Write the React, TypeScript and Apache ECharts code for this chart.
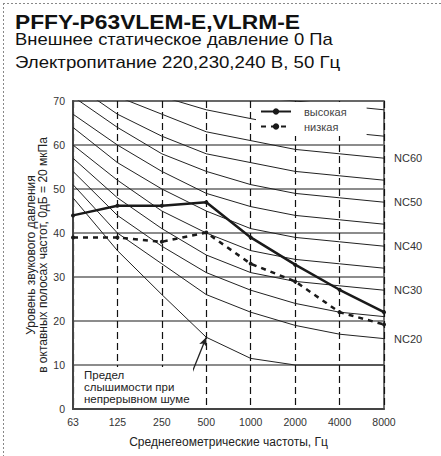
import React, { useEffect, useRef } from "react";
import * as echarts from "echarts";

const freqs = ["63", "125", "250", "500", "1000", "2000", "4000", "8000"];
const yTicks = [0, 10, 20, 30, 40, 50, 60, 70];

const nc20 = [51, 40, 33, 26, 22, 19, 17, 16];
const nc25 = [54, 44, 37, 31, 27, 24, 22, 21];
const nc30 = [57, 48, 41, 35, 31, 29, 28, 27];
const nc35 = [60, 52, 45, 40, 36, 34, 33, 32];
const nc40 = [64, 56, 50, 45, 41, 39, 38, 37];
const nc45 = [67, 60, 54, 49, 46, 44, 43, 42];
const nc50 = [71, 64, 58, 54, 51, 49, 48, 47];
const nc55 = [74, 67, 62, 58, 56, 54, 53, 52];
const nc60 = [77, 71, 67, 63, 61, 59, 58, 57];
const nc65 = [80, 75, 71, 68, 66, 64, 63, 62];
const nc70 = [83, 79, 75, 72, 71, 70, 69, 68];
const threshold = [48, 36, 26, 16.3, 11.5, 10, 10, 10];

const highValues = [44, 46.2, 46.2, 47, 39, 32.8, 27.1, 22];
const lowValues = [39, 39, 38, 40.1, 33, 29, 22, 19.2];

const ncCurves: { name: string; data: number[]; label: boolean }[] = [
  { name: "NC20", data: nc20, label: true },
  { name: "NC25", data: nc25, label: false },
  { name: "NC30", data: nc30, label: true },
  { name: "NC35", data: nc35, label: false },
  { name: "NC40", data: nc40, label: true },
  { name: "NC45", data: nc45, label: false },
  { name: "NC50", data: nc50, label: true },
  { name: "NC55", data: nc55, label: false },
  { name: "NC60", data: nc60, label: true },
  { name: "NC65", data: nc65, label: false },
  { name: "NC70", data: nc70, label: false },
];

const FONT = "'Liberation Sans', Arial, sans-serif";

export default function App() {
  const ref = useRef<HTMLDivElement>(null);

  useEffect(() => {
    if (!ref.current) return;
    const chart = echarts.init(ref.current, null, { renderer: "svg" });

    const ncSeries = ncCurves.map((c) => ({
      type: "line",
      name: c.name,
      data: c.data,
      symbol: "none",
      silent: true,
      z: 2,
      lineStyle: { color: "#222", width: 1 },
      endLabel: c.label
        ? {
            show: true,
            formatter: "{a}",
            distance: 10,
            color: "#333",
            fontSize: 11,
            fontFamily: FONT,
          }
        : { show: false },
      emphasis: { disabled: true },
    }));

    const option: any = {
      animation: false,
      backgroundColor: "#fff",
      textStyle: { fontFamily: FONT },
      grid: {
        left: 73,
        right: 57,
        top: 101,
        bottom: 47,
        show: true,
        borderColor: "#444",
        borderWidth: 1.5,
        backgroundColor: "transparent",
      },
      legend: {
        data: ["высокая", "низкая"],
        orient: "vertical",
        left: 256,
        top: 102,
        itemWidth: 30,
        itemHeight: 8,
        itemGap: 4,
        padding: [4, 20, 4, 4],
        backgroundColor: "#fff",
        textStyle: {
          fontSize: 11,
          color: "#444",
          fontFamily: FONT,
          padding: [0, 0, 0, 8],
        },
        selectedMode: false,
      },
      xAxis: {
        type: "category",
        data: freqs,
        boundaryGap: false,
        name: "Среднегеометрические частоты, Гц",
        nameLocation: "middle",
        nameGap: 27,
        nameMoveOverlap: false,
        nameTextStyle: { fontSize: 12, color: "#222", fontFamily: FONT },
        axisLine: { lineStyle: { color: "#444", width: 2 } },
        axisTick: { show: false },
        axisLabel: { interval: 0, margin: 7, fontSize: 10.5, color: "#333" },
        splitLine: {
          show: true,
          interval: 0,
          lineStyle: { type: [7, 4], color: "#111", width: 1.2 },
        },
      },
      yAxis: {
        type: "value",
        min: yTicks[0],
        max: yTicks[yTicks.length - 1],
        interval: 10,
        name: "Уровень звукового давления\nв октавных полосах частот, 0дБ = 20 мкПа",
        nameLocation: "middle",
        nameGap: 24,
        nameMoveOverlap: false,
        nameTextStyle: {
          fontSize: 12,
          color: "#222",
          lineHeight: 12,
          fontFamily: FONT,
        },
        axisLine: { show: true, lineStyle: { color: "#444", width: 2 } },
        axisTick: { show: false },
        axisLabel: { margin: 8, fontSize: 10.5, color: "#333" },
        splitLine: { show: true, lineStyle: { color: "#666", width: 1.5 } },
      },
      series: [
        ...ncSeries,
        {
          type: "line",
          name: "Предел слышимости",
          data: threshold,
          symbol: "none",
          silent: true,
          z: 2,
          lineStyle: { color: "#222", width: 1 },
          emphasis: { disabled: true },
          markLine: {
            silent: true,
            symbol: ["none", "arrow"],
            symbolSize: [6, 9],
            label: { show: false },
            lineStyle: { color: "#222", width: 1.3, type: "solid" },
            emphasis: { disabled: true },
            data: [[{ x: 187, y: 385 }, { coord: ["500", threshold[3]] }]],
          },
        },
        {
          type: "line",
          name: "высокая",
          data: highValues,
          symbol: "circle",
          symbolSize: 4,
          z: 5,
          itemStyle: { color: "#1a1a1a" },
          lineStyle: { color: "#1a1a1a", width: 2.5 },
        },
        {
          type: "line",
          name: "низкая",
          data: lowValues,
          symbol: "circle",
          symbolSize: 4,
          z: 5,
          itemStyle: { color: "#1a1a1a" },
          lineStyle: { color: "#1a1a1a", width: 2.5, type: [5, 5] },
        },
      ],
      graphic: [
        {
          type: "line",
          shape: { x1: 3, y1: 3.5, x2: 441, y2: 3.5 },
          style: { stroke: "#888", lineWidth: 1, lineDash: [2, 2] },
        },
        {
          type: "line",
          shape: { x1: 3.5, y1: 3, x2: 3.5, y2: 456 },
          style: { stroke: "#888", lineWidth: 1, lineDash: [2, 2] },
        },
        {
          type: "text",
          x: 15,
          y: 12,
          scaleX: 1.14,
          style: {
            text: "PFFY-P63VLEM-E,VLRM-E",
            font: `bold 20px ${FONT}`,
            fill: "#111",
          },
        },
        {
          type: "text",
          x: 15,
          y: 31,
          scaleX: 1.15,
          style: {
            text: "Внешнее статическое давление 0 Па",
            font: `16px ${FONT}`,
            fill: "#111",
          },
        },
        {
          type: "text",
          x: 15,
          y: 54,
          scaleX: 1.165,
          style: {
            text: "Электропитание 220,230,240 В, 50 Гц",
            font: `16px ${FONT}`,
            fill: "#111",
          },
        },
        {
          type: "rect",
          shape: { x: 75, y: 367, width: 118, height: 41 },
          style: { fill: "#fff" },
          z: 10,
        },
        {
          type: "text",
          x: 84,
          y: 369,
          z: 11,
          style: {
            text: "Предел\nслышимости при\nнепрерывном шуме",
            font: `11.5px ${FONT}`,
            lineHeight: 12,
            fill: "#222",
          },
        },
      ],
    };

    chart.setOption(option);
    return () => chart.dispose();
  }, []);

  return (
    <div
      ref={ref}
      style={{ position: "fixed", left: 0, top: 0, width: 441, height: 456 }}
    />
  );
}
